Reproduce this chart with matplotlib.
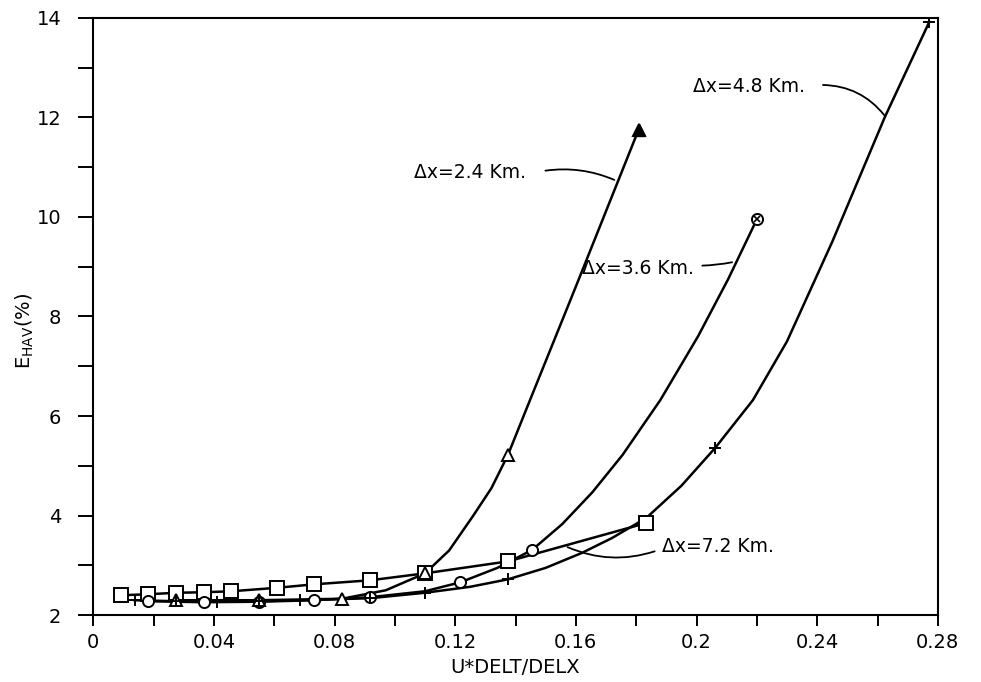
import numpy as np
import matplotlib
matplotlib.use('Agg')
import matplotlib.pyplot as plt

# ---- data ----
# dx = 7.2 km (squares)
u_72 = [0.0092, 0.0183, 0.0275, 0.0367, 0.0458, 0.0610, 0.0733, 0.0917, 0.1100, 0.1375, 0.1833]
e_72 = [2.40, 2.42, 2.45, 2.46, 2.48, 2.55, 2.62, 2.70, 2.84, 3.08, 3.85]

# dx = 4.8 km (crosses)
u_48 = [0.0137, 0.0275, 0.0412, 0.0550, 0.0687, 0.0917, 0.1100, 0.1375, 0.2062, 0.2772]
e_48 = [2.30, 2.28, 2.27, 2.28, 2.30, 2.34, 2.45, 2.72, 5.36, 13.92]
# points (markers only where listed above)
u_48_line = [0.0137, 0.0275, 0.0412, 0.0550, 0.0687, 0.0917, 0.1100, 0.1250, 0.1375, 0.1500,
             0.1620, 0.1720, 0.1833, 0.1950, 0.2062, 0.2187, 0.2300, 0.2450, 0.2624, 0.2772]
e_48_line = [2.30, 2.28, 2.27, 2.28, 2.30, 2.34, 2.45, 2.57, 2.72, 2.95,
             3.25, 3.55, 3.95, 4.60, 5.36, 6.32, 7.50, 9.50, 12.00, 13.92]

# dx = 3.6 km (circles)
u_36 = [0.0183, 0.0367, 0.0550, 0.0733, 0.0917, 0.1217, 0.1455, 0.2200]
e_36 = [2.28, 2.26, 2.27, 2.30, 2.36, 2.66, 3.31, 9.95]
u_36_line = [0.0183, 0.0367, 0.0550, 0.0733, 0.0917, 0.1100, 0.1217, 0.1340, 0.1455, 0.1555,
             0.1655, 0.1755, 0.1880, 0.2005, 0.2105, 0.2200]
e_36_line = [2.28, 2.26, 2.27, 2.30, 2.36, 2.48, 2.66, 2.95, 3.31, 3.83,
             4.47, 5.22, 6.32, 7.60, 8.75, 9.95]

# dx = 2.4 km (triangles)
u_24 = [0.0275, 0.0550, 0.0825, 0.1100, 0.1375, 0.1808]
e_24 = [2.30, 2.30, 2.33, 2.84, 5.22, 11.75]
u_24_line = [0.0275, 0.0550, 0.0825, 0.0970, 0.1100, 0.1180, 0.1260, 0.1320, 0.1375, 0.1448,
             0.1600, 0.1808]
e_24_line = [2.30, 2.30, 2.33, 2.50, 2.84, 3.30, 4.00, 4.55, 5.22, 6.32,
             8.60, 11.75]

# curve labels and their leader lines (start near text, end on curve)
labels = ['\u0394x=2.4 Km.', '\u0394x=3.6 Km.', '\u0394x=4.8 Km.', '\u0394x=7.2 Km.']
label_xy = [(0.1065, 10.9), (0.1620, 8.97), (0.1990, 12.62), (0.1885, 3.37)]
leader_start = [(0.1490, 10.92), (0.2010, 9.02), (0.2410, 12.65), (0.1870, 3.30)]
leader_end = [(0.1736, 10.72), (0.2127, 9.10), (0.2628, 12.00), (0.1564, 3.39)]
leader_rad = [-0.15, 0.05, -0.25, -0.2]

# ---- plot ----
plt.rcParams['font.family'] = ['DejaVu Sans']
plt.rcParams['font.size'] = 13
fig = plt.figure(figsize=(9.81, 6.82), dpi=100)
ax = fig.add_axes([0.095, 0.098, 0.861, 0.876])

lw = 1.8
ax.plot(u_72, e_72, color='k', lw=lw, zorder=2)
ax.plot(u_48_line, e_48_line, color='k', lw=lw, zorder=2)
ax.plot(u_36_line, e_36_line, color='k', lw=lw, zorder=2)
ax.plot(u_24_line, e_24_line, color='k', lw=lw, zorder=2)

ax.plot(u_72, e_72, ls='none', marker='s', ms=9.5, mfc='white', mec='k', mew=1.4, zorder=3)
ax.plot(u_36, e_36, ls='none', marker='o', ms=8, mfc='white', mec='k', mew=1.4, zorder=3)
ax.plot(u_24, e_24, ls='none', marker='^', ms=8, mfc='white', mec='k', mew=1.4, zorder=3)
ax.plot(u_24[-1:], e_24[-1:], ls='none', marker='^', ms=9, mfc='k', mec='k', zorder=4)
ax.plot(u_36[-1:], e_36[-1:], ls='none', marker='x', ms=5, mec='k', mew=1.2, zorder=4)
ax.plot(u_48, e_48, ls='none', marker='+', ms=9, mec='k', mew=1.4, zorder=3)

for lab, xy, start, end, rad in zip(labels, label_xy, leader_start, leader_end, leader_rad):
    ax.text(xy[0], xy[1], lab, fontsize=13.5, va='center', ha='left')
    ax.annotate('', xy=end, xytext=start,
                arrowprops=dict(arrowstyle='-', lw=1.3, color='k',
                                connectionstyle='arc3,rad=%s' % rad))

ax.set_xlim(0, 0.28)
ax.set_ylim(2, 14)
ax.set_xticks(np.arange(0, 0.281, 0.04))
ax.set_xticklabels(['0', '0.04', '0.08', '0.12', '0.16', '0.2', '0.24', '0.28'])
ax.set_xticks(np.arange(0, 0.281, 0.02), minor=True)
ax.set_yticks(np.arange(2, 14.1, 2))
ax.set_yticks(np.arange(2, 14.1, 1), minor=True)
ax.tick_params(which='both', direction='out', width=1.4, labelsize=14)
ax.tick_params(axis='x', which='both', length=8, pad=5)
ax.tick_params(axis='y', which='both', length=11, pad=12)
for s in ax.spines.values():
    s.set_linewidth(1.5)

ax.set_xlabel('U*DELT/DELX', fontsize=14, labelpad=4)
ax.set_ylabel('E$_{\\mathregular{HAV}}$(%)', fontsize=14)
ax.yaxis.set_label_coords(-0.068, 0.475)

plt.savefig('out.png', dpi=100)
plt.close()
